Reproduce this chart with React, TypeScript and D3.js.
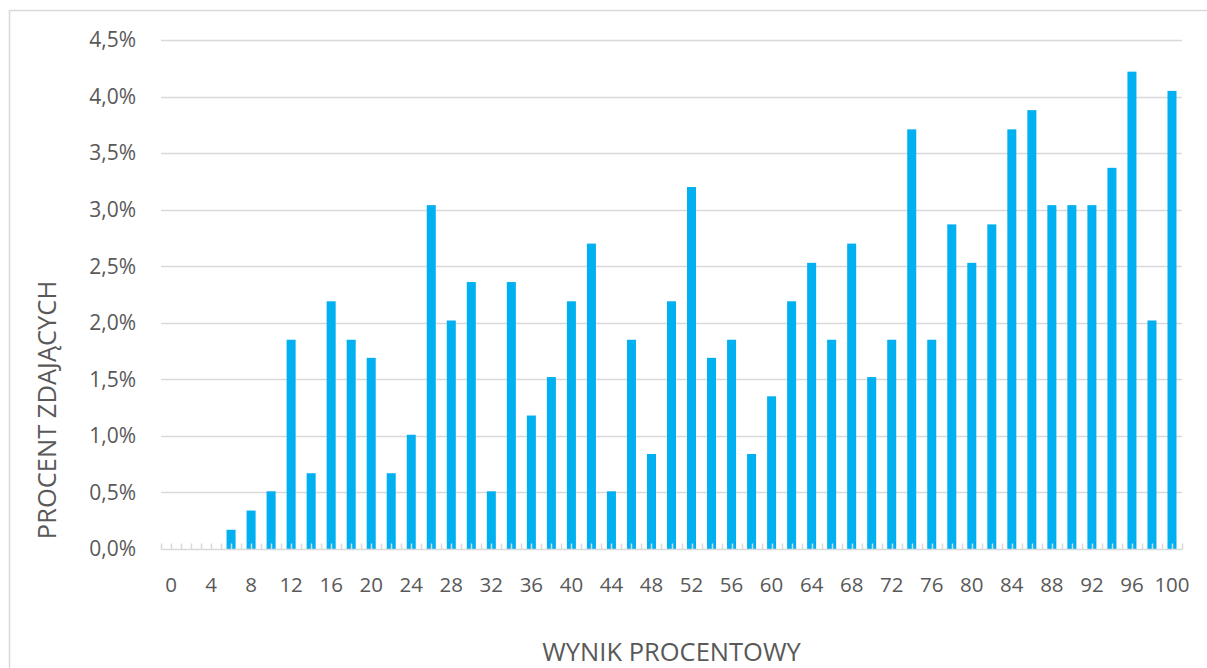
import * as d3 from "d3";
import { useEffect, useRef } from "react";

// wynik procentowy (co 2 pkt) i procent zdających
const categories: number[] = d3.range(0, 101, 2);
const percentValues: number[] = [
  0, 0, 0, 0.17, 0.34, 0.51, 1.85, 0.67, 2.19, 1.85,
  1.69, 0.67, 1.01, 3.04, 2.02, 2.36, 0.51, 2.36, 1.18, 1.52,
  2.19, 2.7, 0.51, 1.85, 0.84, 2.19, 3.2, 1.69, 1.85, 0.84,
  1.35, 2.19, 2.53, 1.85, 2.7, 1.52, 1.85, 3.71, 1.85, 2.87,
  2.53, 2.87, 3.71, 3.88, 3.04, 3.04, 3.04, 3.37, 4.22, 2.02,
  4.05,
];
const yTicks: number[] = [0, 0.5, 1, 1.5, 2, 2.5, 3, 3.5, 4, 4.5];
const yTitle = "PROCENT ZDAJĄCYCH";
const xTitle = "WYNIK PROCENTOWY";

const W = 1207;
const H = 668;
const FONT = "'Open Sans', 'Noto Sans', sans-serif";
const TEXT = "#595959";
const GRID = "#d9d9d9";
const BAR = "#00b0f0";

const plLocale = d3.formatLocale({
  decimal: ",",
  thousands: " ",
  grouping: [3],
  currency: ["", " zł"],
});
const fmt = plLocale.format(".1f");

const App = () => {
  const ref = useRef<SVGSVGElement | null>(null);

  useEffect(() => {
    if (!ref.current) return;
    const svg = d3.select(ref.current);
    svg.selectAll("*").remove();

    const margin = { top: 40, right: 25, bottom: 119, left: 161 };

    svg
      .append("rect")
      .attr("width", W)
      .attr("height", H)
      .attr("fill", "#fff");

    // ramka wykresu
    svg
      .append("rect")
      .attr("x", 9.5)
      .attr("y", 10.5)
      .attr("width", W + 50)
      .attr("height", H + 50)
      .attr("fill", "none")
      .attr("stroke", GRID)
      .attr("stroke-width", 1.5);

    const x = d3
      .scaleBand<number>()
      .domain(categories)
      .range([margin.left, W - margin.right])
      .paddingInner(0.55)
      .paddingOuter(0.275);

    const y = d3
      .scaleLinear()
      .domain([0, 4.5])
      .range([H - margin.bottom, margin.top]);

    const step = x.step();
    const x0 = margin.left;
    const x1 = W - margin.right;

    // siatka + etykiety osi Y
    const gy = svg.append("g");
    gy.selectAll("line")
      .data(yTicks.filter((d) => d > 0))
      .join("line")
      .attr("x1", x0)
      .attr("x2", x1)
      .attr("y1", (d) => Math.round(y(d)) + 0.5)
      .attr("y2", (d) => Math.round(y(d)) + 0.5)
      .attr("stroke", GRID)
      .attr("stroke-width", 1.3);
    gy.selectAll("text")
      .data(yTicks)
      .join("text")
      .attr("x", 136)
      .attr("y", (d) => y(d))
      .attr("dy", "0.35em")
      .attr("text-anchor", "end")
      .attr("font-family", FONT)
      .attr("font-size", 21)
      .attr("fill", TEXT)
      .text((d) => fmt(d) + "%");

    // słupki
    svg
      .append("g")
      .selectAll("rect")
      .data(categories)
      .join("rect")
      .attr("x", (d) => x(d)!)
      .attr("width", x.bandwidth())
      .attr("y", (_, i) => y(percentValues[i]))
      .attr("height", (_, i) => y(0) - y(percentValues[i]))
      .attr("fill", BAR);

    // oś X
    const base = Math.round(y(0)) + 0.5;
    const gx = svg.append("g");
    gx.append("line")
      .attr("x1", x0)
      .attr("x2", x1)
      .attr("y1", base)
      .attr("y2", base)
      .attr("stroke", GRID)
      .attr("stroke-width", 1.5);
    const tickPos = d3.range(0, categories.length * 2 + 1).map((k) => x0 + (k * step) / 2);
    gx.selectAll("line.tick")
      .data(tickPos)
      .join("line")
      .attr("class", "tick")
      .attr("x1", (d) => Math.round(d) + 0.5)
      .attr("x2", (d) => Math.round(d) + 0.5)
      .attr("y1", base - 6)
      .attr("y2", base)
      .attr("stroke", GRID)
      .attr("stroke-width", 1.5);
    gx.selectAll("text")
      .data(categories.filter((d) => d % 4 === 0))
      .join("text")
      .attr("x", (d) => x(d)! + x.bandwidth() / 2)
      .attr("y", 585)
      .attr("dy", "0.35em")
      .attr("text-anchor", "middle")
      .attr("font-family", FONT)
      .attr("font-size", 20.5)
      .attr("fill", TEXT)
      .text((d) => String(d));

    // tytuły osi
    svg
      .append("text")
      .attr("transform", `translate(56,410) rotate(-90)`)
      .attr("text-anchor", "middle")
      .attr("font-family", FONT)
      .attr("font-size", 25.5)
      .attr("fill", TEXT)
      .text(yTitle);

    svg
      .append("text")
      .attr("x", (x0 + x1) / 2)
      .attr("y", 661)
      .attr("text-anchor", "middle")
      .attr("font-family", FONT)
      .attr("font-size", 25.5)
      .attr("fill", TEXT)
      .text(xTitle);
  }, []);

  return (
    <div style={{ position: "absolute", left: 0, top: 0, width: W, height: H }}>
      <svg ref={ref} width={W} height={H} style={{ display: "block" }} />
    </div>
  );
};

export default App;
